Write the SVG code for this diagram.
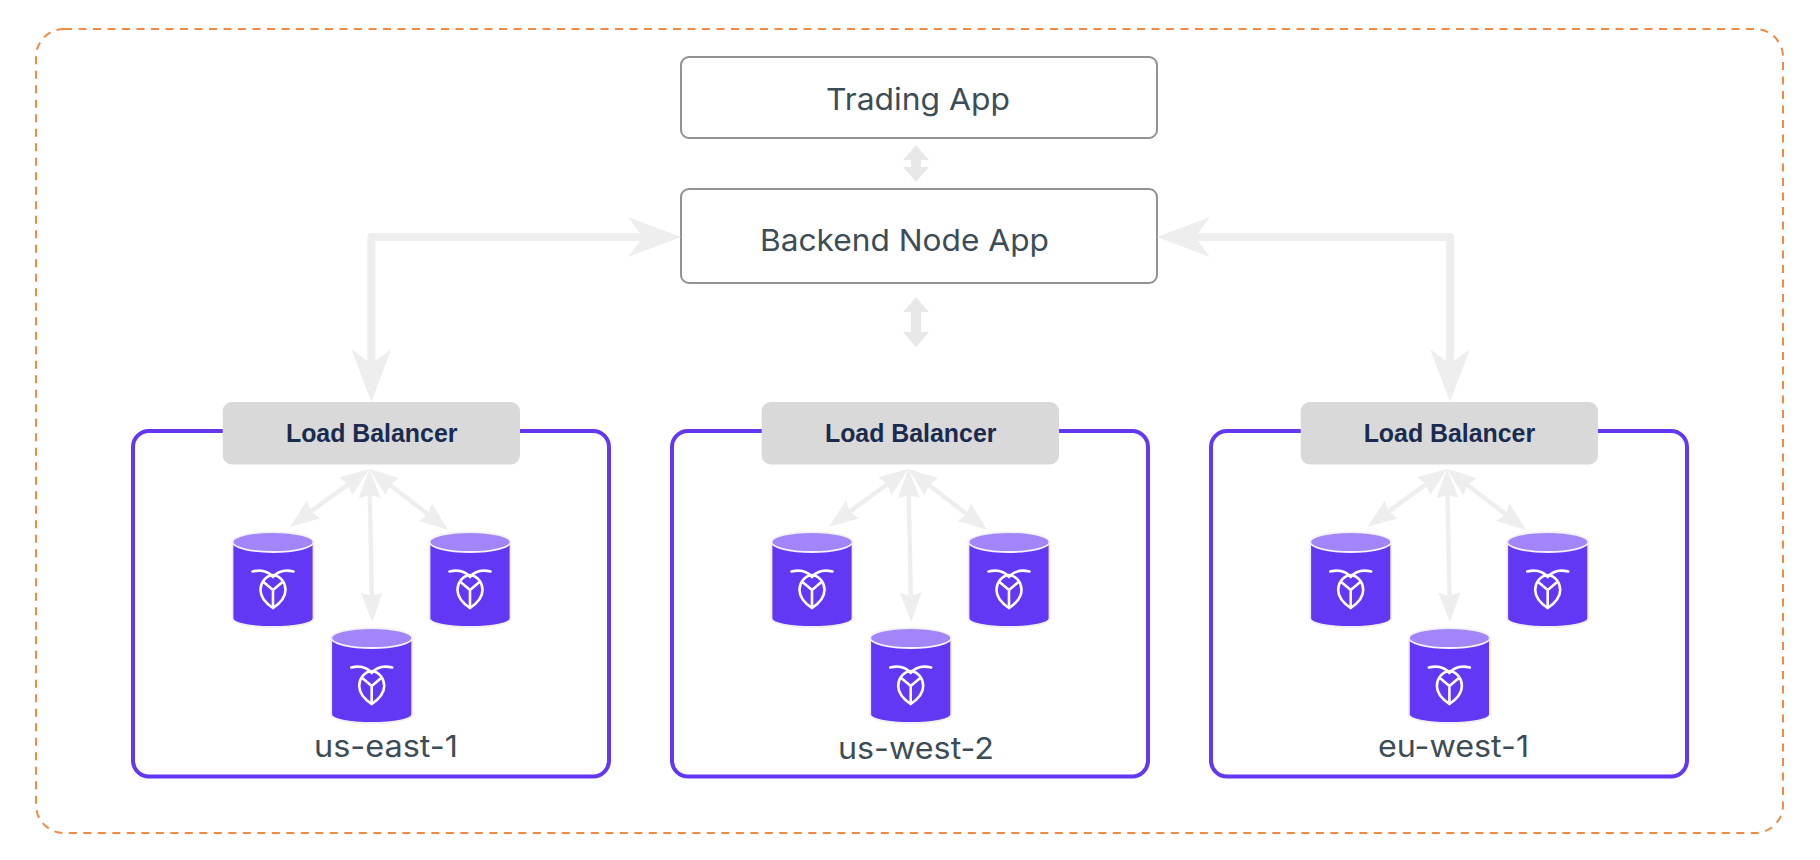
<svg xmlns="http://www.w3.org/2000/svg" width="1820" height="860" viewBox="0 0 1820 860">
<style>
.box{fill:#fff;stroke:#929292;stroke-width:2}
.region{fill:#fff;stroke:#6338f5;stroke-width:4}
.lb{fill:#d9d9d9}
.lbt{font:bold 24.9px "Liberation Sans",Arial,sans-serif;fill:#1a2b4f;text-anchor:middle}
.t{font-family:Inter,"Noto Sans",sans-serif;fill:#3d4d57;font-size:30px}
.big{fill:none;stroke:#eeeeee;stroke-width:8;stroke-linejoin:round;marker-start:url(#mBig);marker-end:url(#mBig)}
.sm{fill:none;stroke:#e8e8e8;stroke-width:10;marker-start:url(#mSm);marker-end:url(#mSm)}
.in{fill:none;stroke:#eeeeee;stroke-width:4.4;marker-start:url(#mIn);marker-end:url(#mIn)}
.logo{fill:none;stroke:#fff;stroke-width:2.6;stroke-linecap:round;stroke-linejoin:round}
</style>
<defs>
<marker id="mBig" markerUnits="userSpaceOnUse" viewBox="0 0 53 40" markerWidth="53" markerHeight="40" refX="15" refY="20" orient="auto-start-reverse"><path d="M0 0L53 20L0 40L15 20Z" fill="#eeeeee"/></marker>
<marker id="mSm" markerUnits="userSpaceOnUse" viewBox="0 0 15 26" markerWidth="15" markerHeight="26" refX="1" refY="13" orient="auto-start-reverse"><path d="M0 0L15 13L0 26Z" fill="#e8e8e8"/></marker>
<marker id="mIn" markerUnits="userSpaceOnUse" viewBox="0 0 29 22" markerWidth="29" markerHeight="22" refX="3" refY="11" orient="auto-start-reverse"><path d="M0 0L29 11L0 22L3 11Z" fill="#eeeeee"/></marker>
<g id="cyl">
<path d="M-40.5 10V87A40.5 8.5 0 0 0 40.5 87V10Z" fill="#6338f5" stroke="#efeef5" stroke-width="1.8"/>
<ellipse cx="0" cy="10.5" rx="40.5" ry="10" fill="#a285f8" stroke="#f4f2fb" stroke-width="1.8"/>
<path class="logo" d="M-20.5 40C-12 38-5 39.5 0 45.5C5 39.5 12 38 20.5 40"/>
<path class="logo" d="M0 43.5C-8 44.5-12.5 51.5-12.5 58.5C-12.5 66.5-6 72.5 0 76.5C6 72.5 12.5 66.5 12.5 58.5C12.5 51.5 8 44.5 0 43.5Z"/>
<path class="logo" d="M-9.5 50.5L0 58.5L9.5 50.5M0 58.5V76.5"/>
</g>
</defs>

<rect id="boundary" x="36" y="29" width="1747" height="804" rx="28" fill="#fff" stroke="#f08a45" stroke-width="2" stroke-dasharray="8 6.5"/>

<g id="trading-app"><rect class="box" x="681" y="57" width="476" height="81" rx="8"/><text class="t" x="826" y="110" textLength="184" lengthAdjust="spacingAndGlyphs">Trading App</text></g>
<g id="backend-node-app"><rect class="box" x="681" y="189" width="476" height="94" rx="8"/><text class="t" x="760" y="251" textLength="289" lengthAdjust="spacingAndGlyphs">Backend Node App</text></g>

<g id="region-us-east-1">
<rect class="region" x="133" y="431" width="476" height="345.5" rx="16"/>
<g id="lb-1"><rect class="lb" x="222.7" y="402" width="297.3" height="62.5" rx="9"/><text class="lbt" x="371.7" y="441.7">Load Balancer</text></g>
<use href="#cyl" x="273" y="531.5"/><use href="#cyl" x="470" y="531.5"/><use href="#cyl" x="371.7" y="627.5"/>
<text class="t" x="314" y="756.7" textLength="144" lengthAdjust="spacingAndGlyphs">us-east-1</text>
</g>
<g id="region-us-west-2">
<rect class="region" x="672" y="431" width="476" height="345.5" rx="16"/>
<g id="lb-2"><rect class="lb" x="761.7" y="402" width="297.3" height="62.5" rx="9"/><text class="lbt" x="910.7" y="441.7">Load Balancer</text></g>
<use href="#cyl" x="812" y="531.5"/><use href="#cyl" x="1009" y="531.5"/><use href="#cyl" x="910.7" y="627.5"/>
<text class="t" x="838" y="759" textLength="156" lengthAdjust="spacingAndGlyphs">us-west-2</text>
</g>
<g id="region-eu-west-1">
<rect class="region" x="1211" y="431" width="476" height="345.5" rx="16"/>
<g id="lb-3"><rect class="lb" x="1300.7" y="402" width="297.3" height="62.5" rx="9"/><text class="lbt" x="1449.4" y="441.7">Load Balancer</text></g>
<use href="#cyl" x="1350.7" y="531.5"/><use href="#cyl" x="1547.7" y="531.5"/><use href="#cyl" x="1449.4" y="627.5"/>
<text class="t" x="1378" y="756.7" textLength="151" lengthAdjust="spacingAndGlyphs">eu-west-1</text>
</g>

<g id="connectors">
<path class="big" d="M371.3 364V237H643"/>
<path class="big" d="M1195 237H1450V364"/>
<path class="sm" d="M916 159V168"/>
<path class="sm" d="M916 311V333"/>
<g id="c1"><path class="in" d="M348.3 484.3L311 511.4"/><path class="in" d="M389.9 484.9L427.7 514.1"/><path class="in" d="M369.8 495L371.8 595.7"/></g>
<g id="c2" transform="translate(539 0)"><path class="in" d="M348.3 484.3L311 511.4"/><path class="in" d="M389.9 484.9L427.7 514.1"/><path class="in" d="M369.8 495L371.8 595.7"/></g>
<g id="c3" transform="translate(1077.7 0)"><path class="in" d="M348.3 484.3L311 511.4"/><path class="in" d="M389.9 484.9L427.7 514.1"/><path class="in" d="M369.8 495L371.8 595.7"/></g>
</g>
</svg>
